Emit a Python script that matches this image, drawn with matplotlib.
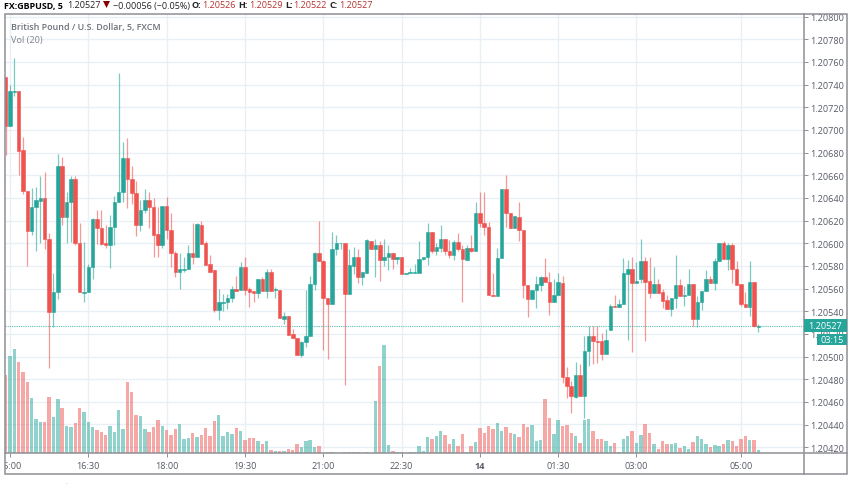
import matplotlib
matplotlib.use("Agg")
import matplotlib.pyplot as plt
from matplotlib.patches import Rectangle, Circle
from matplotlib.transforms import Bbox
import numpy as np

# prices are points above 1.20000 (1 point = 0.00001)
opens = [747,703,733,734,682,646,611,632,637,640,604,539,557,668,623,636,657,600,556,557,
         579,621,613,600,598,614,636,645,675,657,644,616,629,638,632,608,598,633,612,591,
         575,576,577,591,588,616,600,582,576,541,547,548,552,560,559,579,560,558,556,568,
         558,575,559,559,533,536,520,516,501,513,518,564,591,584,552,546,595,600,600,555,
         580,588,570,574,602,595,598,585,588,591,586,588,573,574,574,574,586,588,610,593,
         596,604,593,590,601,595,585,596,593,627,618,614,554,553,587,648,627,613,623,612,
         563,551,559,563,570,566,548,554,565,482,474,464,484,465,505,518,514,514,502,523,
         545,544,546,573,577,565,568,584,567,556,564,557,550,542,552,563,553,554,564,533,
         548,558,568,565,584,600,586,598,577,564,546,544,566,526]
closes = [703,734,734,681,646,611,632,638,640,604,539,557,668,623,636,657,600,557,557,579,
          621,613,599,598,614,636,645,675,657,644,616,629,638,632,607,598,633,612,591,575,
          577,577,591,588,617,599,581,575,541,548,548,552,560,558,579,559,557,556,568,558,
          575,558,560,534,536,519,516,501,513,518,564,591,584,552,546,595,600,600,555,581,
          588,570,575,603,595,598,585,588,591,586,588,573,574,575,575,586,588,610,593,597,
          604,593,590,601,595,586,596,593,627,618,614,554,553,587,648,627,613,624,612,563,
          551,559,564,570,566,548,554,566,482,474,465,484,465,505,518,514,513,502,515,545,
          544,546,574,577,565,567,584,566,556,564,556,549,542,552,563,553,554,564,533,548,
          558,568,565,584,600,586,598,577,563,546,544,566,527,527]
highs = [747,740,763,734,694,646,649,650,659,663,609,574,679,676,645,659,659,618,601,582,
         622,629,629,616,625,642,750,689,693,668,655,638,648,645,640,632,633,641,627,593,
         591,588,598,618,618,620,602,590,576,560,555,555,562,571,583,588,561,558,568,570,
         577,577,561,559,539,536,524,516,514,559,571,592,620,585,552,610,607,600,600,595,
         597,595,575,604,602,604,602,604,598,591,588,588,574,578,582,602,588,618,610,600,
         616,604,603,603,609,598,598,607,636,645,645,619,574,596,648,660,627,624,636,612,
         563,559,571,571,587,575,568,574,571,491,478,495,493,518,527,527,527,521,524,546,
         554,551,587,585,588,583,604,588,588,579,568,560,554,552,590,568,562,577,564,553,
         558,576,571,587,600,602,600,600,584,564,557,584,566,529]
lows = [678,703,730,660,643,580,607,593,600,595,490,526,551,616,600,601,598,557,548,557,
        568,599,598,596,578,598,636,636,631,635,606,611,627,613,588,588,596,604,579,570,
        560,575,577,582,588,599,581,575,539,532,540,542,548,558,559,554,544,548,552,558,
        552,558,552,534,529,519,516,501,500,508,518,559,584,506,498,546,590,595,475,555,
        573,565,563,574,595,570,567,580,576,577,582,573,573,574,574,574,585,581,591,590,
        592,590,587,585,593,548,585,592,593,614,607,554,553,553,587,614,613,613,602,552,
        535,551,543,558,566,537,548,554,477,463,450,463,465,446,492,493,494,497,502,523,
        544,544,546,515,504,565,565,514,552,556,556,543,542,536,543,553,545,554,527,526,
        541,558,565,559,584,586,576,565,563,545,544,536,526,522]
# volume heights
vols = [236,293,313,273,245,215,165,103,93,93,168,108,163,136,83,78,91,135,123,93,
        80,71,63,56,81,65,130,73,215,183,115,111,73,65,80,100,81,71,56,73,
        88,43,45,61,50,56,76,53,98,115,53,63,58,76,66,40,45,47,38,29,
        36,10,7,7,7,13,10,27,20,38,40,18,21,1,5,5,1,1,5,5,
        3,3,1,3,1,158,263,325,25,7,3,5,1,5,3,21,7,48,43,51,
        68,56,27,43,21,58,3,23,33,75,61,83,73,90,66,79,60,58,49,88,
        79,86,36,40,162,105,57,99,81,85,60,51,31,100,103,66,43,43,37,23,
        31,5,43,53,66,31,55,88,61,29,13,36,29,27,31,16,23,13,33,53,
        43,29,19,25,21,29,40,37,23,43,51,40,40,10]

price_ticks = [420,440,460,480,500,520,540,560,580,600,620,640,660,680,700,720,740,760,780,800]
time_ticks = [1,19,37,55,73,91,109,127,145,169]
time_labels = ["15:00","16:30","18:00","19:30","21:00","22:30","14","01:30","03:00","05:00"]
last_price = 527

RED = "#ef5350"
GREEN = "#26a69a"
GRID = "#e9f0f5"
FRAME = "#8f8f94"
TEXT = "#555b66"
W, H = 852, 485

def fx(px):
    return px / W

def fy(px):
    return 1 - px / H

plt.rcParams['font.family'] = ['Open Sans', 'DejaVu Sans']
fig = plt.figure(figsize=(W / 100, H / 100), dpi=100)

left, right, top, bottom = 4.5, 804, 14.5, 454.3
ax = fig.add_axes([fx(left), fy(bottom), fx(right - left), (bottom - top) / H])
ax2 = ax.twinx()
ax.set_zorder(2)
ax2.set_zorder(1)
ax.patch.set_visible(False)

o = 1.2 + np.array(opens) * 1e-5
c = 1.2 + np.array(closes) * 1e-5
hi = 1.2 + np.array(highs) * 1e-5
lo = 1.2 + np.array(lows) * 1e-5
idx = np.arange(len(opens))
up = c >= o
colors = np.where(up, GREEN, RED)

ax.vlines(idx, lo, hi, colors=colors, linewidth=0.9, alpha=0.6, zorder=3)
ax.bar(idx, np.abs(c - o), bottom=np.minimum(o, c), width=0.8, color=colors,
       edgecolor=colors, linewidth=0.4, zorder=4)

# volume sits on the pixel scale of the lower pane
ax2.bar(idx, vols, width=0.78, color=colors, alpha=0.5, linewidth=0, zorder=2)
ax2.set_ylim(0, (bottom - top) * 3)
ax2.set_yticks([])

ax.set_xlim(-0.253, 183.5)
ax.set_ylim(1.2 + 414.6e-5, 1.2 + 802.7e-5)

ax.set_yticks([1.2 + v * 1e-5 for v in price_ticks])
ax.set_yticklabels([f"{1.2 + v * 1e-5:.5f}" for v in price_ticks], color=TEXT, fontsize=6.6)
ax.yaxis.tick_right()
ax.tick_params(axis="y", length=3.2, width=0.7, color=FRAME, pad=1.2, zorder=1)
ax.set_xticks(time_ticks)
ax.set_xticklabels([])
ax.tick_params(axis="x", length=3, width=0.7, color=FRAME)

for v in price_ticks:
    ax2.axhline((bottom - (244.2 - (v - 600) * 1.133)) * 3, color=GRID, linewidth=1, zorder=0)
for t in time_ticks:
    ax2.axvline(t, color=GRID, linewidth=1, zorder=0)

ax.axhline(1.2 + last_price * 1e-5, color=GREEN, linewidth=0.8, linestyle=(0, (1, 1)), alpha=0.75, zorder=2.5)

for sp in ax.spines.values():
    sp.set_visible(False)
for sp in ax2.spines.values():
    sp.set_visible(False)

# outer frame and pane separators
fig.add_artist(Rectangle((fx(left), fy(475)), fx(847 - left), (475 - top) / H, fill=False,
                         edgecolor=FRAME, linewidth=1.1, transform=fig.transFigure, zorder=5))
fig.add_artist(plt.Line2D([fx(right), fx(right)], [fy(475), fy(top)], color=FRAME, linewidth=1.1, zorder=5))
fig.add_artist(plt.Line2D([fx(left), fx(847)], [fy(bottom), fy(bottom)], color=FRAME, linewidth=1.1, zorder=5))

# time labels, the first one is cut by the frame
clip = Bbox([[left, 0], [W, H]])
for t, lab in zip(time_ticks, time_labels):
    tx = fig.text(fx(5.6 + 4.35 * t), fy(466.5), lab, ha="center", va="center", fontsize=6.6,
                  color=TEXT, fontweight="bold" if lab == "14" else "normal")
    tx.set_clip_box(clip)
    tx.set_clip_on(True)

# last price and countdown boxes
fig.add_artist(Rectangle((fx(804), fy(332.7)), fx(43), 12.7 / H, facecolor=GREEN, edgecolor="none",
                         transform=fig.transFigure, zorder=6))
fig.add_artist(Rectangle((fx(816.7), fy(345.7)), fx(30.3), 10.7 / H, facecolor=GREEN, edgecolor="none",
                         transform=fig.transFigure, zorder=6))
fig.text(fx(825.5), fy(326.3), "1.20527", color="white", fontsize=6.6, ha="center", va="center", zorder=7)
fig.text(fx(832), fy(340.3), "03:15", color="white", fontsize=6.6, ha="center", va="center", zorder=7)

# header line
DARK = "#222222"
VAL = "#b5322e"
fig.text(fx(4.3), fy(6), "FX:GBPUSD, 5", fontsize=6.4, fontweight="bold", color="black", va="center")
fig.text(fx(66.7), fy(6), "1.20527", fontsize=6.5, color=DARK, va="center")
fig.add_artist(plt.Polygon([[fx(103), fy(2)], [fx(110), fy(2)], [fx(106.5), fy(9)]], closed=True,
                           facecolor="#8b0000", edgecolor="none", transform=fig.transFigure))
fig.text(fx(112.7), fy(6), "\u22120.00056 (\u22120.05%)", fontsize=6.5, color=DARK, va="center")
for lx, lab, vx, val in [(191.7, "O:", 202, "1.20526"), (238, "H:", 249, "1.20529"),
                         (285, "L:", 293, "1.20522"), (329, "C:", 339, "1.20527")]:
    fig.text(fx(lx), fy(6), lab, fontsize=6.5, fontweight="bold", color=DARK, va="center")
    fig.text(fx(vx), fy(6), val, fontsize=6.5, color=VAL, va="center")

# pane legend
fig.text(fx(11), fy(27.5), "British Pound / U.S. Dollar, 5, FXCM", fontsize=6.4, fontweight="semibold",
         color="#6b7079", va="center")
fig.text(fx(11), fy(40.5), "Vol (20)", fontsize=6.6, color="#7d828a", va="center")

# bit of a round icon cut by the bottom of the picture
fig.add_artist(Circle((fx(67), fy(487)), 0.0045, facecolor="#3fa9e0", edgecolor="none",
                      transform=fig.transFigure))

fig.savefig("out.png", dpi=100, facecolor="white")
